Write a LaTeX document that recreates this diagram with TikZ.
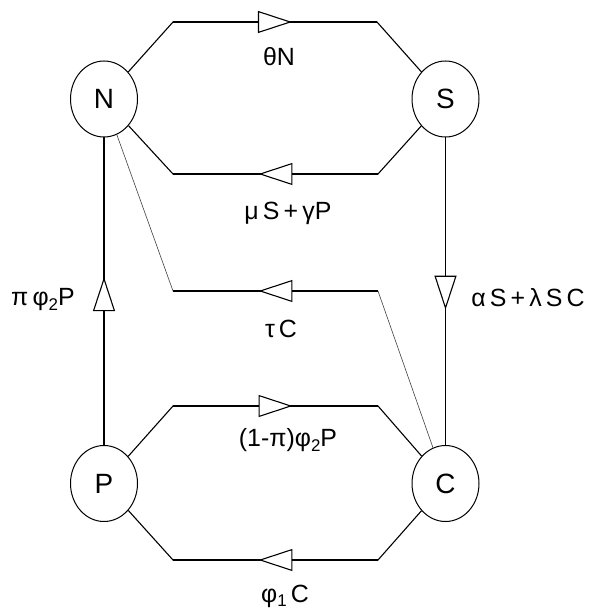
\documentclass[tikz,border=0pt]{standalone}
\usepackage{fontspec}
\setmainfont{Liberation Sans}
\usetikzlibrary{arrows.meta,decorations.markings,shapes.geometric}
\newcommand{\lowsub}[1]{\raisebox{-0.35ex}{\fontsize{17}{17}\selectfont #1}}
\begin{document}
\begin{tikzpicture}[x=1bp,y=-1bp,
  state/.style={draw, ellipse, minimum width=67bp, minimum height=76bp, inner sep=0pt, line width=1bp, font=\fontsize{28}{28}\selectfont},
  flow/.style={line width=1.1bp, line join=miter},
  thinflow/.style={line width=0.6bp, draw=black!75},
  lbl/.style={font=\fontsize{25}{25}\selectfont, inner sep=0pt},
  midarrow/.style={postaction={decorate}, decoration={markings, mark=at position #1 with {\arrow{Triangle[length=34bp,width=22bp,fill=white]}}}}
]
\useasboundingbox (0,0) rectangle (591,609);

\node[state] (N) at (104,99) {N};
\node[state] (S) at (445.5,99) {S};
\node[state] (P) at (104,483.5) {P};
\node[state] (C) at (445.5,483.5) {C};

\coordinate (t1) at (173,22);  \coordinate (t2) at (377,22);
\coordinate (m1) at (173,174); \coordinate (m2) at (378,174);
\coordinate (u1) at (173,291); \coordinate (u2) at (378,291);
\coordinate (p1) at (173,406); \coordinate (p2) at (378,406);
\coordinate (b1) at (173,560); \coordinate (b2) at (378,560);

% N -> S (theta N)
\draw[flow] (N) -- (t1) -- (t2) -- (S);
\draw[flow, midarrow=0.583] (t1) -- (t2);
% S -> N (mu S + gamma P)
\draw[flow] (S) -- (m2) -- (m1) -- (N);
\draw[flow, midarrow=0.583] (m2) -- (m1);
% C -> N (tau C)
\draw[thinflow] (C) -- (u2) -- (u1) -- (N);
\draw[thinflow, line width=1.1bp, draw=black, midarrow=0.583] (u2) -- (u1);
% P -> C
\draw[flow] (P) -- (p1) -- (p2) -- (C);
\draw[flow, midarrow=0.583] (p1) -- (p2);
% C -> P
\draw[flow] (C) -- (b2) -- (b1) -- (P);
\draw[flow, midarrow=0.583] (b2) -- (b1);
% P -> N
\draw[flow, midarrow=0.546] (P) -- (N);
% S -> C
\draw[flow, midarrow=0.56] (S) -- (C);

\node[lbl] (lt) at (279,57) {θN};
\node[lbl] (lm) at (288,213) {μ\,S\,+\,γP};
\node[lbl] (lu) at (281,329) {τ\,C};
\node[lbl] (lp) at (288,440) {(1-π)φ\lowsub{2}P};
\node[lbl] (lb) at (285,596) {φ\lowsub{1}\,C};
\node[lbl] (ln) at (43,300) {π\,φ\lowsub{2}P};
\node[lbl] (ls) at (528,298) {α\,S\,+\,λ\,S\,C};
\end{tikzpicture}
\end{document}
